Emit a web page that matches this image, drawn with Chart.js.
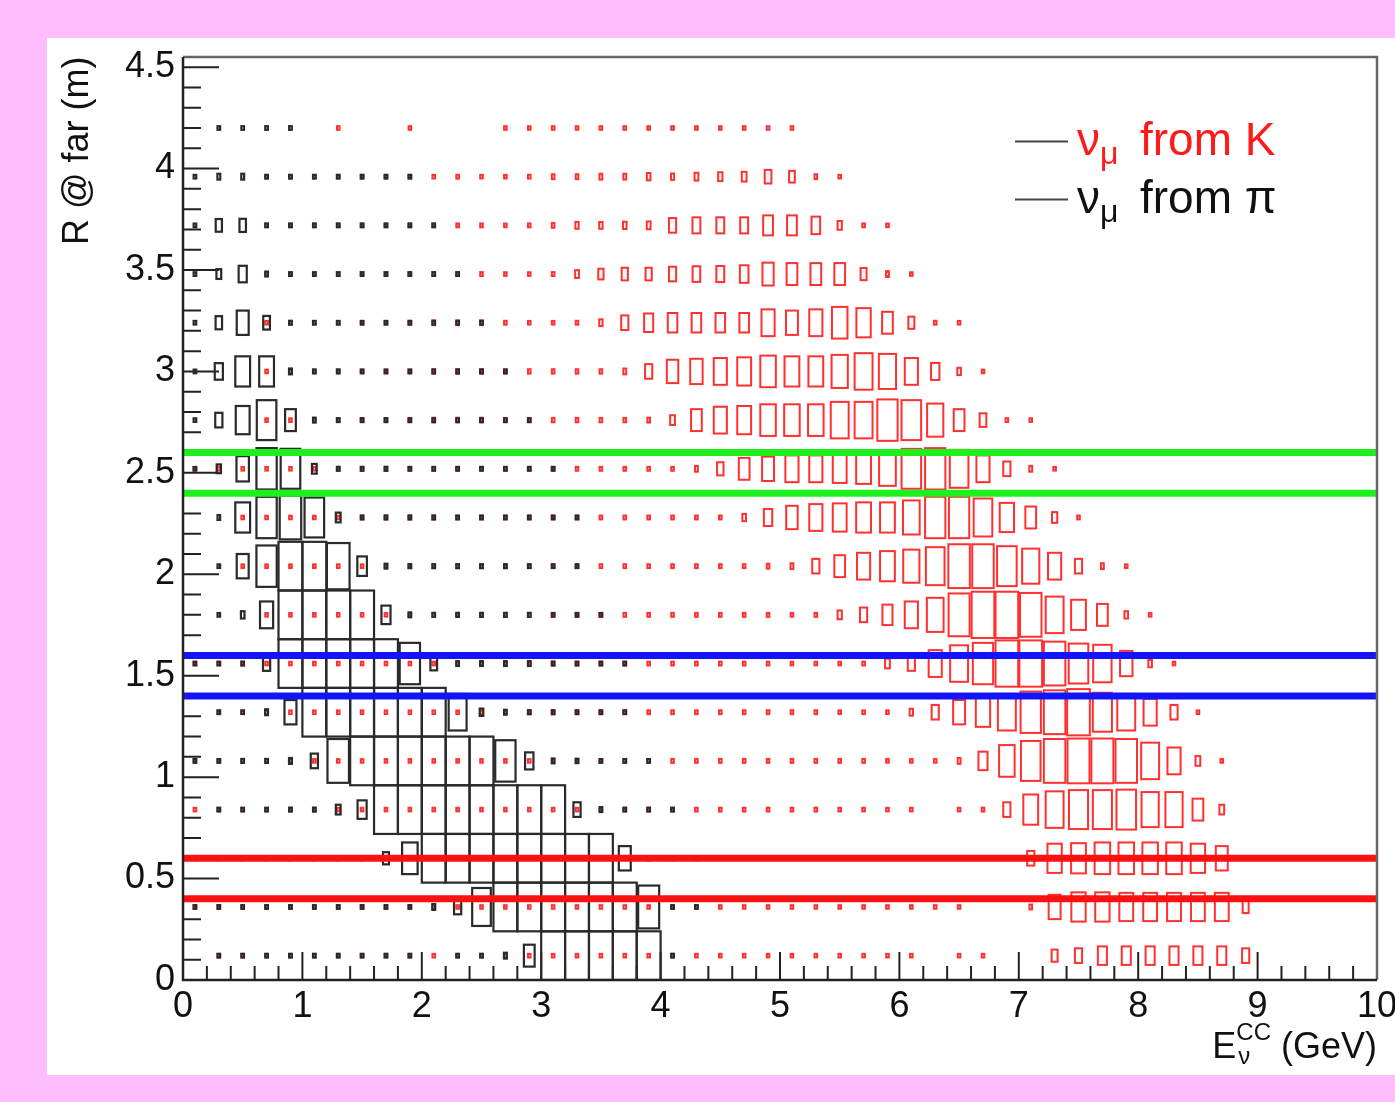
<!DOCTYPE html>
<html lang="en">
<head>
<meta charset="UTF-8">
<title>R @ far vs E</title>
<script src="https://cdn.jsdelivr.net/npm/chart.js@4"></script>
<style>
  html, body { margin: 0; padding: 0; background: #ffbdfd; overflow: hidden; }
  .janela { position: absolute; left: 47px; top: 38px; width: 1348px; height: 1037px; background: #fff; }
  #grafico { position: absolute; left: 0; top: 0; }
</style>
</head>
<body>
<div class="janela"></div>
<canvas id="grafico" width="1395" height="1102"></canvas>
<script>
// centros dos bins (GeV e m)
const energia = [0.1,0.3,0.5,0.7,0.9,1.1,1.3,1.5,1.7,1.9,2.1,2.3,2.5,2.7,2.9,3.1,3.3,3.5,3.7,3.9,
                 4.1,4.3,4.5,4.7,4.9,5.1,5.3,5.5,5.7,5.9,6.1,6.3,6.5,6.7,6.9,7.1,7.3,7.5,7.7,7.9,
                 8.1,8.3,8.5,8.7,8.9,9.1,9.3,9.5,9.7,9.9];
const raio = [0.12,0.36,0.6,0.84,1.08,1.32,1.56,1.8,2.04,2.28,2.52,2.76,3.0,3.24,3.48,3.72,3.96,4.2];
const larguraBin = 0.2;
const alturaBin = 0.24;

// nu_mu from K (vermelho) - cada linha comeca na coluna inicioK[k], de baixo pra cima
const inicioK = [1,0,0,0,0,1,0,3,2,2,0,3,3,3,3,3,3,6];
const valoresK = [
  [.03,.03,.03,.03,.03,.05,.04,.04,.04,.04,.05,.05,.04,.04,.04,.04,.04,.04,.04,.05,.05,.05,.05,.05,.05,.05,.05,.05,.05,.07,0,.04,.04,0,0,.25,.3,.38,.38,.38,.38,.38,.38,.3],
  [.04,.04,.04,.04,.04,.04,.04,.04,.04,.04,.04,.04,.04,.04,.04,.04,.04,.04,.04,.04,.06,.06,.06,.06,.06,.05,.06,.06,.06,.05,.05,.05,.05,0,0,.1,.5,.6,.6,.58,.58,.58,.58,.58,.25],
  [.04,.04,.04,.04,.04,.04,.04,.04,.04,.04,.04,.04,.04,.04,.04,.04,.04,.04,.04,.04,.04,.04,.04,.04,.04,.04,.04,.04,.04,.04,.04,0,0,0,.04,.3,.6,.62,.65,.65,.65,.65,.6,.5],
  [.03,.04,.04,.04,.04,.04,.04,.04,.04,.04,.04,.04,.04,.04,.04,.04,.05,.06,.08,.08,.08,.08,.08,.08,.08,.08,.08,.06,.06,.06,.05,0,.05,.08,.3,.62,.75,.8,.8,.82,.72,.72,.45,.2],
  [.03,.03,.03,.03,.04,.04,.04,.04,.04,.04,.04,.04,.04,.04,.04,.05,.06,.08,.08,.08,.08,.08,.08,.08,.08,.08,.08,.08,.08,.05,.05,.05,.12,.38,.65,.82,.9,.92,.92,.9,.75,.55,.2,.04],
  [.03,.03,.04,.04,.04,.04,.04,.04,.04,.04,.04,.06,.07,.08,.08,.08,.08,.08,.08,.08,.08,.08,.08,.08,.08,.08,.07,.06,.06,.14,.3,.5,.6,.75,.85,.9,.95,.8,.75,.55,.3,.05],
  [.03,.03,.03,.04,.04,.04,.04,.04,.04,.04,.05,.07,.08,.08,.08,.08,.08,.08,.08,.08,.08,.08,.08,.08,.08,.07,.07,.07,.08,.2,.3,.55,.75,.85,.95,.95,.9,.82,.77,.52,.15,.07],
  [.04,.04,.04,.04,.04,.05,.07,.08,.08,.08,.08,.08,.08,.08,.08,.08,.08,.08,.08,.08,.08,.08,.06,.08,.18,.3,.42,.55,.7,.88,.95,.95,.9,.75,.62,.45,.15,.04],
  [.04,.04,.04,.04,.04,.05,.08,.08,.08,.08,.08,.08,.08,.08,.08,.08,.08,.08,.08,.08,.08,.08,.1,.12,.3,.45,.55,.62,.68,.78,.9,.9,.82,.72,.55,.3,.12,.04],
  [.04,.04,.04,.04,.06,.07,.08,.08,.08,.08,.08,.08,.08,.08,.08,.08,.08,.08,.08,.08,.08,.15,.35,.48,.55,.58,.62,.62,.7,.85,.85,.78,.6,.45,.22,.08],
  [.03,.04,.04,.04,.04,.05,.06,.07,.08,.08,.08,.08,.08,.08,.08,.08,.08,.08,.08,.08,.08,.12,.27,.45,.5,.55,.55,.58,.62,.7,.82,.85,.78,.55,.3,.12,.04],
  [.04,.04,.06,.07,.08,.08,.09,.1,.1,.1,.09,.09,.09,.09,.09,.09,.1,.2,.45,.55,.58,.65,.65,.65,.75,.75,.85,.82,.68,.45,.28,.08,.04],
  [.04,.06,.07,.07,.08,.08,.08,.1,.1,.1,.09,.09,.09,.09,.09,.12,.3,.48,.52,.55,.58,.65,.62,.62,.68,.75,.72,.55,.35,.15,.06],
  [.05,.06,.06,.06,.07,.07,.08,.1,.1,.1,.08,.07,.07,.08,.14,.3,.38,.4,.4,.4,.4,.55,.5,.55,.65,.6,.45,.25,.08,.04],
  [.05,.05,.05,.05,.06,.06,.08,.08,.08,.08,.07,.07,.08,.16,.22,.26,.26,.3,.32,.33,.36,.47,.45,.45,.45,.25,.12,.05],
  [.05,.05,.05,.05,.06,.06,.06,.07,.08,.08,.05,.08,.1,.14,.14,.15,.16,.3,.33,.33,.33,.41,.41,.36,.18,.08,.04],
  [.04,.05,.04,.05,.05,.05,.04,.06,.08,.07,.04,.08,.1,.1,.12,.12,.15,.13,.16,.18,.2,.28,.24,.1,.04],
  [.04,0,0,.04,0,0,0,.05,.06,.06,.06,.06,.06,.05,.06,.06,.06,.06,.06,.05]
];

// nu_mu from pi (preto)
const inicioPi = [1,0,0,1,0,1,0,1,1,1,0,0,0,0,0,0,0,1];
const valoresPi = [
  [.04,.04,.04,.04,.04,.04,.04,.05,.04,0,.04,.04,.12,.45,1,1,1,1,1,.05],
  [.03,.04,.05,.05,.07,.06,.07,.06,.06,.06,.12,.3,.78,1,1,1,1,1,1,.88,.05,.04],
  [.03,.04,.05,.05,.06,.06,.07,.07,.25,.65,1,1,1,1,1,1,1,1,.5,.08,.06,.05],
  [.05,.05,.06,.08,.08,.2,.38,1,1,1,1,1,1,1,1,.3,.1,.07,.06,.05],
  [.03,.05,.08,.08,.12,.3,.9,1,1,1,1,1,1,.85,.35,.1,.09,.07,.06,.05],
  [.05,.05,.12,.5,1,1,1,1,1,1,.75,.15,.1,.08,.08,.07,.06,.05],
  [.03,.05,.08,.3,1,1,1,1,1,.85,.28,.1,.1,.1,.1,.08,.07,.06,.05],
  [.05,.15,.55,1,1,1,1,.38,.1,.08,.08,.08,.08,.08,.07,.06,.05],
  [.05,.5,.85,1,1,.95,.4,.1,.08,.08,.08,.08,.08,.07,.06,.05],
  [.1,.62,.85,.9,.82,.2,.08,.08,.08,.08,.07,.07,.07,.06,.05,.04],
  [.03,.18,.52,.85,.82,.2,.08,.08,.08,.07,.07,.06,.06,.05,.05,.04],
  [.03,.3,.58,.82,.45,.1,.08,.08,.08,.07,.07,.06,.06,.05,.04],
  [.03,.34,.62,.62,.12,.08,.08,.07,.07,.06,.06,.05,.05,.04],
  [.03,.27,.5,.28,.08,.07,.07,.06,.06,.06,.05,.05,.04],
  [.03,.2,.34,.1,.06,.06,.06,.05,.05,.05,.04,.04],
  [.03,.26,.27,.07,.06,.05,.05,.05,.05,.05,.04],
  [.03,.12,.12,.06,.06,.04,.05,.05,.04,.04],
  [.05,.05,.05,.05]
];

// cortes em R (m)
const cortesVerdes = [2.4, 2.6];
const cortesAzuis = [1.4, 1.6];
const cortesVermelhos = [0.4, 0.6];

const fonte = "'Liberation Sans', Arial, Helvetica, sans-serif";

function montarPontos(inicio, valores) {
    var pontos = [];
    valores.forEach(function (linha, k) {
        linha.forEach(function (v, j) {
            if (v > 0) pontos.push({ x: energia[inicio[k] + j], y: raio[k], v: v });
        });
    });
    return pontos;
}

function linhaCorte(valor, cor) {
    return {
        type: 'line',
        data: [{ x: 0, y: valor }, { x: 10, y: valor }],
        borderColor: cor,
        borderWidth: 7,
        pointRadius: 0,
        fill: false
    };
}

// caixas do TH2 (opcao BOX)
const caixasPlugin = {
    id: 'caixas',
    beforeDatasetsDraw(chart) {
        const { ctx, chartArea, scales: { x, y } } = chart;
        ctx.save();
        // ticks para dentro
        ctx.strokeStyle = '#222';
        ctx.lineWidth = 2;
        ctx.beginPath();
        for (let i = 0; i <= 45; i++) {
            const py = y.getPixelForValue(i / 10);
            const len = i % 5 === 0 ? 36 : 18;
            ctx.moveTo(chartArea.left, py);
            ctx.lineTo(chartArea.left + len, py);
        }
        for (let i = 0; i <= 50; i++) {
            const px = x.getPixelForValue(i * 0.2);
            const len = i % 5 === 0 ? 28 : 14;
            ctx.moveTo(px, chartArea.bottom);
            ctx.lineTo(px, chartArea.bottom - len);
        }
        ctx.stroke();

        ctx.beginPath();
        ctx.rect(chartArea.left, chartArea.top, chartArea.width, chartArea.height);
        ctx.clip();
        chart.data.datasets.filter(ds => ds.caixa).forEach(ds => {
            ctx.strokeStyle = ds.borderColor;
            ctx.lineWidth = ds.espessura;
            ds.data.forEach(p => {
                const cx = x.getPixelForValue(p.x);
                const cy = y.getPixelForValue(p.y);
                // pontinhos muito pequenos ficam com tamanho minimo visivel
                const w = Math.max(x.getPixelForValue(p.x + p.v * larguraBin / 2) - cx, 1.3) * 2;
                const h = Math.max(cy - y.getPixelForValue(p.y + p.v * alturaBin / 2), 1.8) * 2;
                ctx.strokeRect(cx - w / 2, cy - h / 2, w, h);
            });
        });
        ctx.restore();
    },
    afterDatasetsDraw(chart) {
        const { ctx, chartArea: a } = chart;
        ctx.save();
        ctx.strokeStyle = '#666';
        ctx.lineWidth = 2.5;
        ctx.beginPath();
        ctx.moveTo(a.left, a.top); ctx.lineTo(a.right, a.top); ctx.lineTo(a.right, a.bottom);
        ctx.stroke();
        ctx.strokeStyle = '#222';
        ctx.beginPath();
        ctx.moveTo(a.left, a.top); ctx.lineTo(a.left, a.bottom); ctx.lineTo(a.right, a.bottom);
        ctx.stroke();
        ctx.restore();
    },
    afterDraw(chart) {
        const { ctx, chartArea: a } = chart;
        ctx.save();
        // titulo eixo y
        ctx.fillStyle = '#111';
        ctx.font = '36px ' + fonte;
        ctx.translate(88, 245);
        ctx.rotate(-Math.PI / 2);
        ctx.textAlign = 'left';
        ctx.textBaseline = 'alphabetic';
        ctx.fillText('R @ far (m)', 0, 0);
        ctx.restore();

        // titulo eixo x: E_nu^CC (GeV)
        ctx.save();
        ctx.fillStyle = '#111';
        ctx.textBaseline = 'alphabetic';
        ctx.font = '36px ' + fonte;
        const wE = ctx.measureText('E').width;
        const wResto = ctx.measureText(' (GeV)').width;
        ctx.font = '24px ' + fonte;
        const wCC = ctx.measureText('CC').width;
        let xi = a.right - wResto - wCC - wE;
        ctx.font = '36px ' + fonte;
        ctx.fillText('E', xi, 1058);
        ctx.font = '24px ' + fonte;
        ctx.fillText('CC', xi + wE, 1040);
        ctx.fillText('\u03bd', xi + wE + 2, 1064);
        ctx.font = '36px ' + fonte;
        ctx.fillText(' (GeV)', xi + wE + wCC, 1058);
        ctx.restore();

        // legenda
        const entradas = [
            { texto: 'from K', cor: '#ff1a1a', y: 155, yl: 141.5 },
            { texto: 'from \u03c0', cor: '#111', y: 213, yl: 199.5 }
        ];
        ctx.save();
        entradas.forEach(e => {
            ctx.strokeStyle = '#444';
            ctx.lineWidth = 2;
            ctx.beginPath();
            ctx.moveTo(1015, e.yl); ctx.lineTo(1068, e.yl);
            ctx.stroke();
            ctx.fillStyle = e.cor;
            ctx.font = '46px ' + fonte;
            ctx.fillText('\u03bd', 1077, e.y);
            const wNu = ctx.measureText('\u03bd').width;
            ctx.font = '32px ' + fonte;
            ctx.fillText('\u03bc', 1077 + wNu, e.y + 9);
            ctx.font = '46px ' + fonte;
            ctx.fillText(e.texto, 1140, e.y);
        });
        ctx.restore();
    }
};

const grafico = new Chart('grafico', {
    type: 'scatter',
    data: {
        datasets: [
            linhaCorte(cortesVerdes[0], '#1ef01e'),
            linhaCorte(cortesVerdes[1], '#1ef01e'),
            linhaCorte(cortesAzuis[0], '#1414f8'),
            linhaCorte(cortesAzuis[1], '#1414f8'),
            linhaCorte(cortesVermelhos[0], '#ff1010'),
            linhaCorte(cortesVermelhos[1], '#ff1010'),
            { label: 'nu_mu from K', data: montarPontos(inicioK, valoresK), caixa: true,
              borderColor: '#ff3030', espessura: 2, pointRadius: 0 },
            { label: 'nu_mu from pi', data: montarPontos(inicioPi, valoresPi), caixa: true,
              borderColor: '#2a2a2a', espessura: 2.2, pointRadius: 0 }
        ]
    },
    options: {
        responsive: false,
        animation: false,
        devicePixelRatio: 1,
        layout: { padding: { left: 0, right: 18, top: 57, bottom: 0 } },
        plugins: { legend: { display: false }, tooltip: { enabled: false } },
        scales: {
            x: {
                type: 'linear', min: 0, max: 10,
                grid: { display: false, drawTicks: false },
                border: { display: false },
                ticks: { stepSize: 1, includeBounds: false, autoSkip: false, maxRotation: 0,
                         padding: 5, color: '#111', font: { family: fonte, size: 36 } },
                afterFit: function (s) { s.height = 122; s.paddingLeft = 0; s.paddingRight = 0; }
            },
            y: {
                type: 'linear', min: 0, max: 4.55,
                grid: { display: false, drawTicks: false },
                border: { display: false },
                ticks: { stepSize: 0.5, includeBounds: false, autoSkip: false,
                         padding: 8, color: '#111', font: { family: fonte, size: 36 },
                         callback: function (v) { return String(v); } },
                afterFit: function (s) { s.width = 183; s.paddingTop = 0; s.paddingBottom = 0; }
            }
        }
    },
    plugins: [caixasPlugin]
});
</script>
</body>
</html>
